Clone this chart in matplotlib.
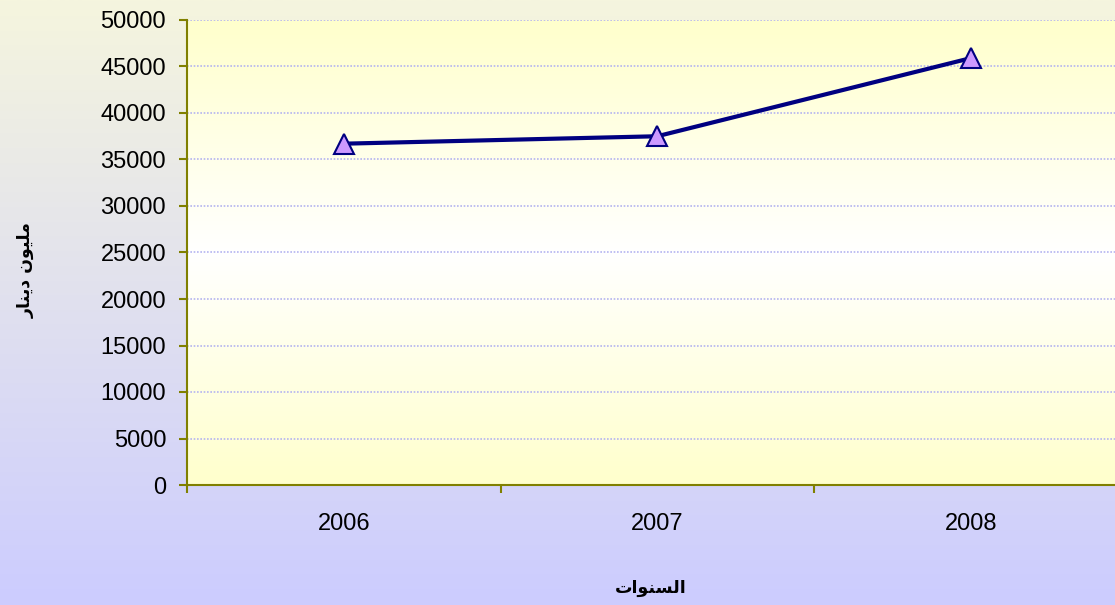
import matplotlib.pyplot as plt
import numpy as np

# Data
years = ["2006", "2007", "2008"]
values = [36700, 37500, 45900]
y_ticks = [0, 5000, 10000, 15000, 20000, 25000, 30000, 35000, 40000, 45000, 50000]

# Arabic labels, written in presentation forms (visual order) since matplotlib does no shaping
Y_LABEL = "\uFEAD\uFE8E\uFEE8\uFEF3\uFEA9 \uFEE5\uFEEE\uFEF4\uFEE0\uFEE3"   # مليون دينار
X_LABEL = "\uFE95\uFE8D\uFEEE\uFEE8\uFEB4\uFEDF\uFE8D"                      # السنوات

OLIVE = '#808000'
NAVY = '#000080'
FONTS = ['Liberation Sans', 'DejaVu Sans']

plt.rcParams['font.family'] = FONTS

fig = plt.figure(figsize=(11.15, 6.05), dpi=100)

# Figure background gradient (beige at top -> lavender at bottom)
bg = fig.add_axes([0, 0, 1, 1], zorder=-5)
top_c = np.array([245, 245, 222]) / 255
bot_c = np.array([204, 204, 255]) / 255
t = np.linspace(0, 1, 256)[:, None]
bg.imshow((top_c * (1 - t) + bot_c * t)[:, None, :], aspect='auto', extent=[0, 1, 0, 1])
bg.set_axis_off()

# Main axes, extends slightly past the right edge like the original
ax = fig.add_axes([187 / 1115, 1 - 485 / 605, 940.5 / 1115, 465 / 605])
ax.set_facecolor('none')

# Plot area gradient: pale yellow at top and bottom, white in the middle
yellow = np.array([255, 255, 204]) / 255
white = np.array([255, 255, 255]) / 255
s = np.abs(np.linspace(-1, 1, 256))[:, None]
ax.imshow((white * (1 - s) + yellow * s)[:, None, :], aspect='auto',
          extent=[-0.5, 2.5, 0, 50000], zorder=0)

x = np.arange(len(years))
ax.plot(x, values, color=NAVY, linewidth=3, marker='^', markersize=15,
        markerfacecolor='#cc99ff', markeredgecolor=NAVY, markeredgewidth=1.5, zorder=3)

ax.set_xlim(-0.5, 2.5)
ax.set_ylim(0, 50000)

# Gridlines
ax.set_yticks(y_ticks)
ax.yaxis.grid(True, color='#b4b4f0', linestyle=(0, (1, 1)), linewidth=1.2, zorder=1)
ax.set_axisbelow(False)
for gl in ax.get_ygridlines():
    gl.set_zorder(1)

# Category ticks at boundaries, labels centred
ax.set_xticks([-0.5, 0.5, 1.5, 2.5])
ax.set_xticklabels([])
ax.set_xticks(x, minor=True)
ax.set_xticklabels(years, minor=True)
ax.tick_params(axis='x', which='minor', length=0, pad=20, labelsize=17)
ax.tick_params(axis='x', which='major', length=6, width=1.5, color=OLIVE, direction='out')
ax.tick_params(axis='y', length=6, width=1.5, color=OLIVE, labelsize=17, pad=9)

for side in ['top', 'right']:
    ax.spines[side].set_visible(False)
for side in ['left', 'bottom']:
    ax.spines[side].set_color(OLIVE)
    ax.spines[side].set_linewidth(1.5)
    ax.spines[side].set_zorder(4)

fig.text(26 / 1115, 1 - 270 / 605, Y_LABEL, rotation=90, ha='center', va='center',
         fontsize=12.5, fontweight='bold', family=['DejaVu Sans'])
fig.text(651 / 1115, 1 - 588 / 605, X_LABEL, ha='center', va='center',
         fontsize=12.5, fontweight='bold', family=['DejaVu Sans'])

fig.savefig('out.png', dpi=100)
